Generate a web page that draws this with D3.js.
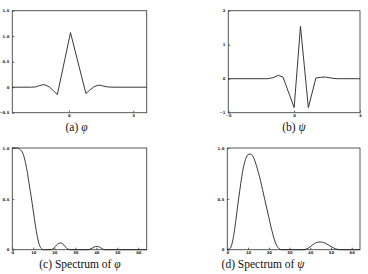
<!DOCTYPE html>
<html>
<head>
<meta charset="utf-8">
<script src="https://cdn.jsdelivr.net/npm/d3@7"></script>
<style>
  body { margin: 0; background: #fff; }
  svg { display: block; }
</style>
</head>
<body>
<div id="app"></div>
<script>
// (a) scaling function phi
const phiX = [-4.4, -3.0, -2.6, -2.3, -2.0, -1.8, -1.5, -1.2, -0.9, 0.12, 1.32, 1.6, 1.9, 2.2, 2.4, 2.7, 3.0, 3.5, 6.04]
const phiY = [0, 0, 0.005, 0.03, 0.05, 0.04, 0.0, -0.07, -0.145, 1.07, -0.125, -0.06, 0.0, 0.035, 0.04, 0.02, 0.005, 0, 0]

// (b) wavelet psi
const psiX = [-5, -2.0, -1.6, -1.2, -0.85, 0, 0.48, 1.08, 1.65, 2.0, 2.35, 2.8, 3.2, 5]
const psiY = [0, 0, 0.03, 0.1, 0.05, -0.85, 1.54, -0.85, 0.02, 0.04, 0.05, 0.02, 0, 0]

// (c) spectrum of phi
const specPhiX = [0, 2, 3, 4, 5, 6, 7, 8, 9, 10, 11, 12, 13, 14, 15, 18, 19, 20, 21, 22, 23, 24, 25, 26, 27, 28, 36, 37, 38, 39, 40, 41, 42, 43, 44, 64]
const specPhiY = [1, 1, 0.995, 0.98, 0.95, 0.88, 0.78, 0.65, 0.52, 0.38, 0.24, 0.12, 0.04, 0.008, 0, 0, 0.005, 0.02, 0.045, 0.062, 0.066, 0.058, 0.035, 0.012, 0.002, 0, 0, 0.005, 0.015, 0.027, 0.032, 0.03, 0.02, 0.008, 0, 0]

// (d) spectrum of psi
const specPsiX = [0, 1, 2, 3, 4, 5, 6, 7, 8, 9, 10, 11, 12, 13, 14, 15, 16, 17, 18, 19, 20, 21, 22, 23, 24, 25, 26, 37, 38, 39, 40, 41, 42, 43, 44, 45, 46, 47, 48, 49, 50, 51, 52, 53, 54, 55, 64]
const specPsiY = [0, 0.005, 0.04, 0.13, 0.27, 0.43, 0.58, 0.72, 0.83, 0.9, 0.935, 0.94, 0.93, 0.89, 0.83, 0.76, 0.68, 0.59, 0.5, 0.41, 0.32, 0.23, 0.15, 0.08, 0.035, 0.01, 0, 0, 0.005, 0.015, 0.03, 0.045, 0.06, 0.07, 0.075, 0.076, 0.073, 0.066, 0.056, 0.044, 0.032, 0.02, 0.01, 0.004, 0.001, 0, 0]

// tick values
const phiXTicks = [0, 5]
const phiYTicks = [-0.5, 0, 0.5, 1.0, 1.5]
const psiXTicks = [-5, 0, 5]
const psiYTicks = [-1, 0, 1, 2]
const specXTicks = [0, 10, 20, 30, 40, 50, 60]
const specYTicks = [0, 0.5, 1.0]

const dec = d => d === 0 ? "0" : d3.format(".1f")(d)
const int = d => d3.format("d")(d)

const panels = [
  { x: phiX, y: phiY, xDom: [-4.4, 6.04], yDom: [-0.5, 1.5], xt: phiXTicks, yt: phiYTicks, yf: dec,
    curve: d3.curveLinear, box: [12.3, 10.7, 134.4, 102], cap: ["(a) ", "\u03c6"], capX: 76.5, capY: 130.5 },
  { x: psiX, y: psiY, xDom: [-5, 5], yDom: [-1, 2], xt: psiXTicks, yt: psiYTicks, yf: int,
    curve: d3.curveLinear, box: [228.3, 10.7, 131.7, 102], cap: ["(b) ", "\u03c8"], capX: 294, capY: 130.5 },
  { x: specPhiX, y: specPhiY, xDom: [0, 64], yDom: [0, 1], xt: specXTicks, yt: specYTicks, yf: dec,
    curve: d3.curveMonotoneX, box: [12.3, 148, 134.4, 101.7], cap: ["(c) Spectrum of ", "\u03c6"], capX: 80, capY: 267.5 },
  { x: specPsiX, y: specPsiY, xDom: [0, 64], yDom: [0, 1], xt: specXTicks, yt: specYTicks, yf: dec,
    curve: d3.curveMonotoneX, box: [227.3, 148, 132.7, 101.7], cap: ["(d) Spectrum of ", "\u03c8"], capX: 263, capY: 267.5 },
]

const svg = d3.select("#app")
  .append("svg")
    .attr("width", 368)
    .attr("height", 274)

panels.forEach(p => {
  const [left, top, w, h] = p.box
  const g = svg.append("g").attr("transform", `translate(${left},${top})`)

  const xScale = d3.scaleLinear().domain(p.xDom).range([0, w])
  const yScale = d3.scaleLinear().domain(p.yDom).range([h, 0])

  // axes (inward ticks)
  const xAxis = g.append("g")
    .attr("transform", `translate(0,${h})`)
    .call(d3.axisBottom(xScale).tickValues(p.xt).tickFormat(int).tickSizeInner(-2).tickSizeOuter(0).tickPadding(3))
  const yAxis = g.append("g")
    .call(d3.axisLeft(yScale).tickValues(p.yt).tickFormat(p.yf).tickSizeInner(-2).tickSizeOuter(0).tickPadding(3))

  ;[xAxis, yAxis].forEach(a => {
    a.select(".domain").remove()
    a.selectAll("line").attr("stroke", "#333").attr("stroke-width", 0.8)
    a.selectAll("text")
      .attr("fill", "#222")
      .style("font-family", "'DejaVu Sans', sans-serif")
      .style("font-size", "3.8px")
      .style("font-weight", "bold")
  })
  xAxis.selectAll("text").attr("dy", "0.3em")

  // frame
  g.append("rect")
    .attr("width", w)
    .attr("height", h)
    .attr("fill", "none")
    .attr("stroke", "#444")
    .attr("stroke-width", 0.9)

  const pts = p.x.map((v, i) => [v, p.y[i]])
  const line = d3.line()
    .x(d => xScale(d[0]))
    .y(d => yScale(d[1]))
    .curve(p.curve)

  g.append("path")
    .datum(pts)
    .attr("d", line)
    .attr("fill", "none")
    .attr("stroke", "#222")
    .attr("stroke-width", 0.9)
    .attr("stroke-linejoin", "round")

  const cap = svg.append("text")
    .attr("x", p.capX)
    .attr("y", p.capY)
    .attr("text-anchor", "middle")
    .style("font-family", "'Liberation Serif', 'DejaVu Serif', serif")
    .style("font-size", "11.5px")
    .attr("fill", "#111")
  cap.append("tspan").text(p.cap[0])
  cap.append("tspan").style("font-style", "italic").text(p.cap[1])
})
</script>
</body>
</html>
